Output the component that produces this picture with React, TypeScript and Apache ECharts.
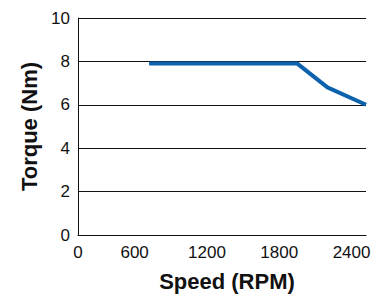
import React, { useEffect, useRef } from "react";
import * as echarts from "echarts";

const speedRpm = [720, 1950, 2200, 2520];
const torqueNm = [7.9, 7.9, 6.8, 6.0];
const xTickValues = [130, 600, 1200, 1800, 2400];
const xTickLabels = ["0", "600", "1200", "1800", "2400"];
const yTicks = [0, 2, 4, 6, 8, 10];

const FONT = '"Liberation Sans", Arial, Helvetica, sans-serif';

export default function App() {
  const ref = useRef<HTMLDivElement>(null);
  useEffect(() => {
    if (!ref.current) return;
    const chart = echarts.init(ref.current, null, { renderer: "svg" });
    chart.setOption({
      animation: false,
      backgroundColor: "#ffffff",
      grid: { left: 78, right: 13, top: 18, bottom: 59, containLabel: false, outerBoundsMode: "none" },
      xAxis: {
        type: "value",
        min: 130,
        max: 2520,
        name: "Speed (RPM)",
        nameLocation: "middle",
        nameGap: 35,
        nameTextStyle: { fontFamily: FONT, fontSize: 22, fontWeight: "bold", color: "#111", padding: [0, 0, 0, 10] },
        axisLine: { show: true, lineStyle: { color: "#111", width: 1 } },
        axisTick: { show: false },
        splitLine: { show: false },
        axisLabel: {
          customValues: xTickValues,
          formatter: (v: number) => {
            const i = xTickValues.indexOf(v);
            return i >= 0 ? xTickLabels[i] : "";
          },
          fontFamily: FONT,
          fontSize: 17,
          color: "#111",
          margin: 9,
          hideOverlap: false,
        },
      },
      yAxis: {
        type: "value",
        min: yTicks[0],
        max: yTicks[yTicks.length - 1],
        interval: 2,
        name: "Torque (Nm)",
        nameLocation: "middle",
        nameGap: 36,
        nameRotate: 90,
        nameTextStyle: { fontFamily: FONT, fontSize: 22, fontWeight: "bold", color: "#111" },
        axisLine: { show: true, lineStyle: { color: "#111", width: 1 } },
        axisTick: { show: false },
        splitLine: { show: true, lineStyle: { color: "#111", width: 1 } },
        axisLabel: { fontFamily: FONT, fontSize: 17, color: "#111", margin: 8 },
      },
      series: [
        {
          type: "line",
          data: speedRpm.map((x, i) => [x, torqueNm[i]]),
          showSymbol: false,
          symbol: "none",
          lineStyle: { color: "#0d62ae", width: 4, cap: "butt", join: "round" },
        },
      ],
    });
    return () => chart.dispose();
  }, []);
  return (
    <div
      ref={ref}
      style={{ position: "absolute", left: 0, top: 0, width: 379, height: 294 }}
    />
  );
}
